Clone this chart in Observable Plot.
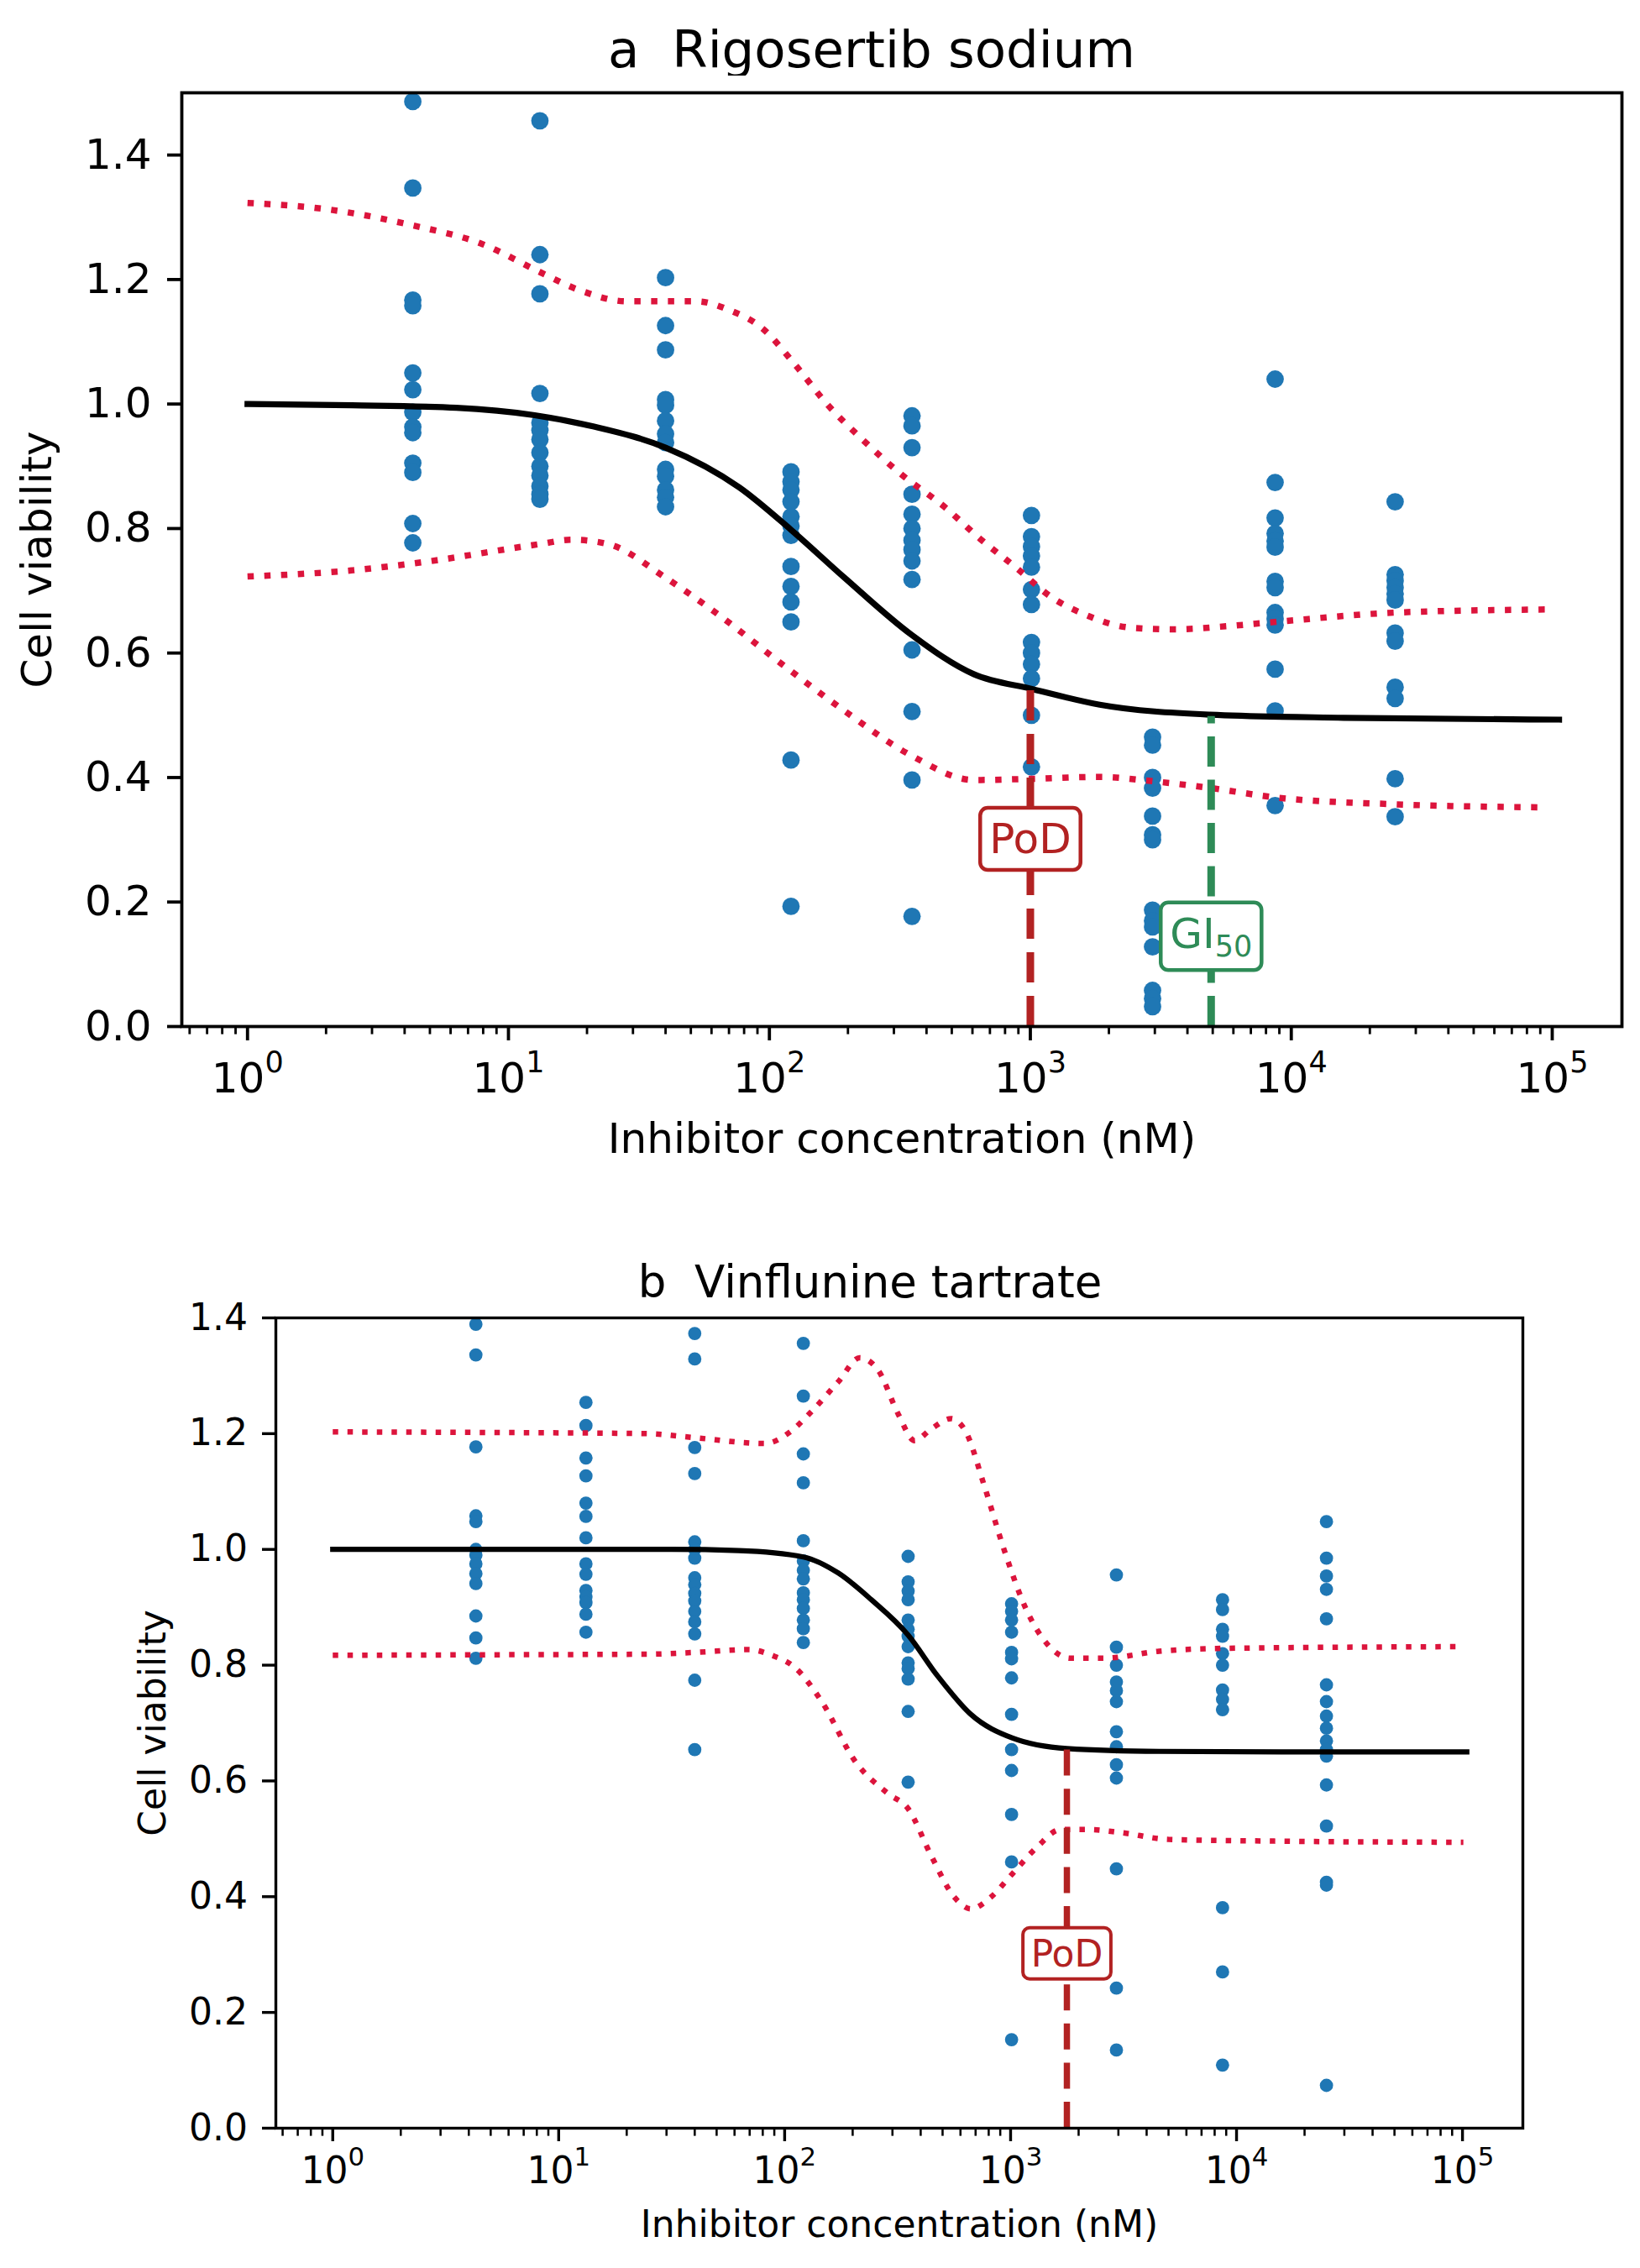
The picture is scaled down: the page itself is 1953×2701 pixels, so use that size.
<!DOCTYPE html>
<html><head><meta charset="utf-8">
<script src="https://cdn.jsdelivr.net/npm/d3@7"></script>
<script src="https://cdn.jsdelivr.net/npm/@observablehq/plot@0.6"></script>
<style>
html, body { margin:0; padding:0; background:#fff; overflow:hidden; }
#page { position:relative; width:1953px; height:2701px; background:#fff; font-family:"DejaVu Sans", sans-serif; }
.title { position:absolute; white-space:pre; line-height:1; color:#000; transform:translateX(-50%); font-family:"DejaVu Sans"; }
.panel { position:absolute; left:0; }
.panel svg { max-width:none !important; display:block; }
</style></head>
<body><div id="page">
<div class="title" style="left:1038px; top:28px; font-size:61px;">a  Rigosertib sodium</div>
<div class="title" style="left:1036px; top:1500px; font-size:53px;">b  Vinflunine tartrate</div>
<div class="panel" id="panelA" style="top:90px;"></div>
<div class="panel" id="panelB" style="top:1555px;"></div>
</div>
<script>
// ---------- data ----------
const concentrations = [4.3, 13.2, 40, 121, 352, 1010, 2940, 8670, 25000];

const viabilityA = [
  [1.486, 1.347, 1.167, 1.158, 1.050, 1.023, 0.987, 0.963, 0.954, 0.905, 0.890, 0.808, 0.777],
  [1.455, 1.240, 1.177, 1.017, 0.970, 0.958, 0.943, 0.922, 0.900, 0.885, 0.868, 0.855, 0.847],
  [1.203, 1.126, 1.087, 1.007, 0.998, 0.973, 0.952, 0.938, 0.895, 0.884, 0.862, 0.850, 0.835],
  [0.891, 0.875, 0.862, 0.843, 0.819, 0.804, 0.789, 0.739, 0.707, 0.682, 0.650, 0.428, 0.193],
  [0.981, 0.965, 0.930, 0.855, 0.823, 0.800, 0.781, 0.766, 0.748, 0.718, 0.605, 0.506, 0.396, 0.177],
  [0.821, 0.787, 0.771, 0.756, 0.738, 0.702, 0.678, 0.617, 0.600, 0.582, 0.559, 0.500, 0.417],
  [0.465, 0.452, 0.400, 0.383, 0.338, 0.308, 0.300, 0.187, 0.170, 0.160, 0.128, 0.058, 0.045, 0.032],
  [1.040, 0.874, 0.817, 0.792, 0.780, 0.770, 0.715, 0.705, 0.665, 0.655, 0.645, 0.574, 0.507, 0.355],
  [0.843, 0.726, 0.716, 0.705, 0.695, 0.685, 0.632, 0.619, 0.545, 0.527, 0.398, 0.337]
];

const viabilityB = [
  [1.389, 1.336, 1.177, 1.058, 1.048, 1.000, 0.990, 0.975, 0.958, 0.941, 0.885, 0.847, 0.812],
  [1.254, 1.214, 1.158, 1.127, 1.080, 1.057, 1.020, 0.975, 0.957, 0.929, 0.918, 0.908, 0.888, 0.857],
  [1.373, 1.329, 1.176, 1.131, 1.013, 1.000, 0.985, 0.951, 0.939, 0.924, 0.911, 0.893, 0.875, 0.854, 0.774, 0.654],
  [1.356, 1.265, 1.165, 1.115, 1.015, 0.980, 0.964, 0.949, 0.925, 0.913, 0.898, 0.878, 0.863, 0.839],
  [0.988, 0.944, 0.928, 0.913, 0.878, 0.862, 0.850, 0.832, 0.804, 0.794, 0.776, 0.720, 0.598],
  [0.906, 0.893, 0.878, 0.857, 0.822, 0.811, 0.778, 0.715, 0.654, 0.618, 0.542, 0.460, 0.153],
  [0.956, 0.831, 0.800, 0.771, 0.756, 0.737, 0.685, 0.659, 0.628, 0.605, 0.448, 0.242, 0.135],
  [0.913, 0.896, 0.862, 0.850, 0.820, 0.800, 0.757, 0.741, 0.723, 0.381, 0.270, 0.109],
  [1.048, 0.985, 0.954, 0.931, 0.880, 0.766, 0.737, 0.712, 0.691, 0.669, 0.654, 0.643, 0.593, 0.522, 0.425, 0.420, 0.074]
];

// fitted curve and confidence bands
const fitConcA = [1, 2.51, 6.31, 12.6, 21.1, 40, 76.7, 121, 194, 351, 607, 1021, 1845, 4887, 15850, 106200];
const fitValA  = [1.000, 0.998, 0.994, 0.982, 0.964, 0.930, 0.866, 0.798, 0.721, 0.629, 0.566, 0.542, 0.517, 0.501, 0.496, 0.493];
const upperConcA = [1, 1.92, 4.30, 7.94, 13.2, 18.7, 28.5, 52.5, 70.1, 93.8, 125, 167, 230, 318, 468, 644, 889, 1202, 1660, 2399, 3573, 5623, 8710, 25180, 97720];
const upperValA  = [1.323, 1.314, 1.287, 1.257, 1.212, 1.183, 1.165, 1.165, 1.151, 1.122, 1.064, 0.999, 0.941, 0.888, 0.835, 0.783, 0.736, 0.690, 0.660, 0.641, 0.638, 0.643, 0.650, 0.665, 0.670];
const lowerConcA = [1, 2.54, 4.34, 13.2, 17.5, 24.1, 40, 60.8, 121, 194, 351, 607, 1021, 1845, 2951, 4932, 8710, 25180, 95280];
const lowerValA  = [0.723, 0.733, 0.744, 0.775, 0.782, 0.775, 0.721, 0.668, 0.571, 0.507, 0.435, 0.396, 0.398, 0.401, 0.394, 0.383, 0.368, 0.357, 0.352];

const fitConcB = [1, 10, 31.6, 62.7, 121, 173, 242, 352, 476, 667, 1021, 1774, 4539, 15850, 104500];
const fitValB  = [1.000, 1.000, 1.000, 0.998, 0.987, 0.959, 0.913, 0.852, 0.781, 0.715, 0.674, 0.656, 0.651, 0.650, 0.650];
const upperConcB = [1, 5.01, 24.8, 40, 82.0, 104, 132, 173, 215, 259, 318, 376, 445, 545, 634, 762, 935, 1183, 1449, 1837, 2576, 4539, 8630, 100900];
const upperValB  = [1.203, 1.202, 1.200, 1.193, 1.183, 1.201, 1.239, 1.290, 1.331, 1.310, 1.234, 1.188, 1.208, 1.226, 1.203, 1.112, 1.000, 0.893, 0.837, 0.812, 0.812, 0.824, 0.829, 0.832];
const lowerConcB = [1, 5.01, 24.8, 40, 69.5, 87.9, 111, 146, 205, 287, 352, 445, 564, 667, 817, 1021, 1312, 1660, 2178, 3048, 4989, 14720, 100900];
const lowerValB  = [0.817, 0.818, 0.819, 0.822, 0.827, 0.817, 0.796, 0.737, 0.634, 0.578, 0.552, 0.471, 0.399, 0.379, 0.399, 0.440, 0.486, 0.516, 0.516, 0.511, 0.499, 0.496, 0.494];

// markers
const podA = 1000, podTopA = 0.541, podLabelYA = 0.30;
const gi50A = 4930, gi50TopA = 0.498, gi50LabelYA = 0.148;
const podB = 1775, podTopB = 0.654, podLabelYB = 0.30;

// ticks
const majorTicks = [1, 10, 100, 1000, 10000, 100000];
const minorMultipliers = [2, 3, 4, 5, 6, 7, 8, 9];
const minorDecades = [0.1, 1, 10, 100, 1000, 10000];
const yTicksA = [0, 0.2, 0.4, 0.6, 0.8, 1.0, 1.2, 1.4];
const yTicksB = [0, 0.2, 0.4, 0.6, 0.8, 1.0, 1.2, 1.4];
const xDomain = [0.56, 185000];

// ---------- tables ----------
const table = (xs, ys) => xs.map((c, i) => ({conc: c, v: ys[i]}));
const points = (vals) => concentrations.flatMap((c, i) => vals[i].map(v => ({conc: c, v})));
const minorTicks = minorDecades.flatMap(d => minorMultipliers.map(m => m * d)).filter(t => t > xDomain[0] && t < xDomain[1]);
const supers = {"0":"⁰","1":"¹","2":"²","3":"³","4":"⁴","5":"⁵"};
const unsupers = {"⁰":"0","¹":"1","²":"2","³":"3","⁴":"4","⁵":"5"};
const fmtPow = d => "10" + String(Math.round(Math.log10(d))).split("").map(c => supers[c]).join("");

function makePanel(cfg) {
  const marks = [
    Plot.dot(cfg.pts, {x: "conc", y: "v", r: cfg.r, fill: "#1f77b4"}),
    Plot.line(cfg.fit, {x: "conc", y: "v", stroke: "black", strokeWidth: cfg.fitW, strokeLinecap: "square", curve: "monotone-x"}),
    Plot.line(cfg.upper, {x: "conc", y: "v", stroke: "crimson", strokeWidth: cfg.dotW, strokeDasharray: cfg.dotDash, strokeLinecap: "butt", strokeLinejoin: "miter", curve: "monotone-x"}),
    Plot.line(cfg.lower, {x: "conc", y: "v", stroke: "crimson", strokeWidth: cfg.dotW, strokeDasharray: cfg.dotDash, strokeLinecap: "butt", strokeLinejoin: "miter", curve: "monotone-x"}),
    ...cfg.rules.map(r => Plot.ruleX([r], {x: "conc", y1: "y1", y2: "y2", stroke: r.color, strokeWidth: cfg.ruleW, strokeDasharray: r.dash, strokeLinecap: "butt"})),
    Plot.frame({stroke: "black", strokeWidth: cfg.frameW}),
    Plot.axisX(minorTicks, {tickSize: 9.6, strokeWidth: cfg.frameW * 0.75, tickFormat: () => "", label: null}),
    Plot.axisX(majorTicks, {tickSize: cfg.tickSize, strokeWidth: cfg.frameW, tickPadding: cfg.xPad, tickFormat: fmtPow,
      fontSize: cfg.fs, label: "Inhibitor concentration (nM)", labelAnchor: "center", labelOffset: cfg.xLabelOffset, labelArrow: "none"}),
    Plot.axisY(cfg.yTicks, {tickSize: cfg.tickSize, strokeWidth: cfg.frameW, tickPadding: cfg.yPad, tickFormat: d => d.toFixed(1),
      fontSize: cfg.fs, label: "Cell viability", labelAnchor: "center", labelOffset: cfg.yLabelOffset, labelArrow: "none"}),
    ...cfg.labels.map(l => Plot.text([l], {x: "conc", y: "v", text: "label", fill: l.color, fontSize: cfg.labelFs, lineAnchor: "middle", textAnchor: "middle"}))
  ];
  const svg = Plot.plot({
    width: 1953, height: cfg.height,
    marginTop: cfg.mt, marginBottom: cfg.mb, marginLeft: cfg.ml, marginRight: cfg.mr,
    style: {fontFamily: "DejaVu Sans", fontSize: cfg.fs + "px", color: "black", background: "white", overflow: "visible"},
    x: {type: "log", domain: xDomain},
    y: {domain: cfg.yDomain},
    marks
  });
  document.getElementById(cfg.id).appendChild(svg);
  const ns = "http://www.w3.org/2000/svg";
  // superscript exponents
  svg.querySelectorAll('g[aria-label="x-axis tick label"] text').forEach(t => {
    const s = t.textContent;
    if (!s || s.length < 3 || !s.startsWith("10")) return;
    const exp = [...s.slice(2)].map(c => unsupers[c] ?? c).join("");
    t.textContent = "10";
    const ts = document.createElementNS(ns, "tspan");
    ts.setAttribute("font-size", "70%");
    ts.setAttribute("dy", "-0.69em");
    ts.textContent = exp;
    t.appendChild(ts);
  });
  // annotation boxes
  svg.querySelectorAll("text").forEach(t => {
    const s = t.textContent;
    const lab = cfg.labels.find(l => l.label === s);
    if (!lab) return;
    if (s.startsWith("GI")) {
      t.textContent = "GI";
      const ts = document.createElementNS(ns, "tspan");
      ts.setAttribute("font-size", "70%");
      ts.setAttribute("dy", "0.3em");
      ts.textContent = "50";
      t.appendChild(ts);
    }
    const b = t.getBBox();
    const r = document.createElementNS(ns, "rect");
    r.setAttribute("x", b.x - cfg.boxPadX);
    r.setAttribute("y", b.y - cfg.boxPadY);
    r.setAttribute("width", b.width + 2 * cfg.boxPadX);
    r.setAttribute("height", b.height + 2 * cfg.boxPadY);
    r.setAttribute("rx", cfg.boxR);
    r.setAttribute("fill", "white");
    r.setAttribute("stroke", lab.color);
    r.setAttribute("stroke-width", cfg.boxW);
    const tr = t.getAttribute("transform");
    if (tr) r.setAttribute("transform", tr);
    t.parentNode.insertBefore(r, t);
  });
}

makePanel({
  id: "panelA", height: 1330, mt: 20, mb: 198, ml: 216, mr: 22,
  yDomain: [0, 1.5], yTicks: yTicksA, fs: 50, labelFs: 50,
  pts: points(viabilityA), r: 10.4,
  fit: table(fitConcA, fitValA), upper: table(upperConcA, upperValA), lower: table(lowerConcA, lowerValA),
  fitW: 7.2, dotW: 7.5, dotDash: "7.5 12.5",
  rules: [
    {conc: podA, y1: 0, y2: podTopA, color: "#b22222", dash: "36 16"},
    {conc: gi50A, y1: 0, y2: gi50TopA, color: "#2e8b57", dash: "36 15.5"}
  ],
  ruleW: 9,
  labels: [
    {conc: podA, v: podLabelYA, label: "PoD", color: "#b22222"},
    {conc: gi50A, v: gi50LabelYA, label: "GI₅₀", color: "#2e8b57"}
  ],
  frameW: 3.8, tickSize: 17, xPad: 26, yPad: 19, xLabelOffset: 150, yLabelOffset: 191,
  boxPadX: 11, boxPadY: 8, boxR: 9, boxW: 4.5
});

makePanel({
  id: "panelB", height: 1146, mt: 14, mb: 167, ml: 328, mr: 140,
  yDomain: [0, 1.4], yTicks: yTicksB, fs: 44, labelFs: 44,
  pts: points(viabilityB), r: 7.9,
  fit: table(fitConcB, fitValB), upper: table(upperConcB, upperValB), lower: table(lowerConcB, lowerValB),
  fitW: 6.2, dotW: 6.5, dotDash: "6.5 11",
  rules: [
    {conc: podB, y1: 0, y2: podTopB, color: "#b22222", dash: "31 15.6"}
  ],
  ruleW: 7.5,
  labels: [
    {conc: podB, v: podLabelYB, label: "PoD", color: "#b22222"}
  ],
  frameW: 3.4, tickSize: 16, xPad: 18, yPad: 17.5, xLabelOffset: 129, yLabelOffset: 163,
  boxPadX: 9.5, boxPadY: 5, boxR: 8, boxW: 4
});
</script></body></html>
